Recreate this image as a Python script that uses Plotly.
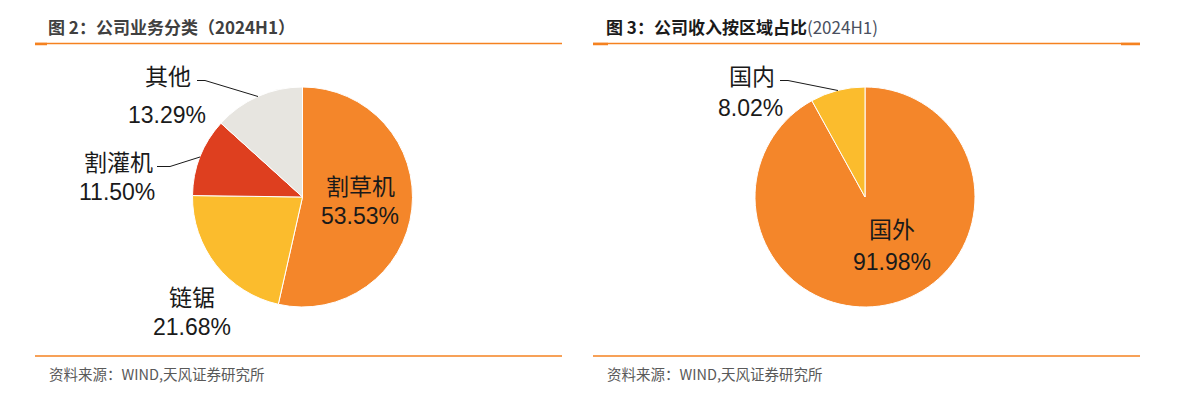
import plotly.graph_objects as go

W, H = 1180, 396

# ---- data ----
biz_labels = ["割草机", "链锯", "割灌机", "其他"]
biz_values = [53.53, 21.68, 11.50, 13.29]
biz_colors = ["#F4862A", "#FBBC2D", "#DE3F1F", "#E7E5E0"]

region_labels = ["国外", "国内"]
region_values = [91.98, 8.02]
region_colors = ["#F4862A", "#FBBC2D"]

title_left = "图 2：公司业务分类（2024H1）"
title_right_main = "图 3：公司收入按区域占比"
title_right_tail = "(2024H1)"
source_text = "资料来源：WIND,天风证券研究所"

FONT = "Liberation Sans, Arial, Noto Sans CJK SC, sans-serif"
CJK = "Noto Sans CJK SC, Liberation Sans, sans-serif"
ORANGE = "#F58220"


def px(x):
    return x / W


def py(y):
    return 1 - y / H


R = 110
c1 = (302.5, 197)
c2 = (865, 197)

fig = go.Figure()
fig.add_trace(go.Pie(
    labels=biz_labels, values=biz_values, sort=False, direction="clockwise",
    rotation=0, textinfo="none", hoverinfo="label+percent",
    marker=dict(colors=biz_colors, line=dict(color="white", width=1)),
    domain=dict(x=[px(c1[0] - R), px(c1[0] + R)], y=[py(c1[1] + R), py(c1[1] - R)]),
    showlegend=False,
))
fig.add_trace(go.Pie(
    labels=region_labels, values=region_values, sort=False, direction="clockwise",
    rotation=0, textinfo="none", hoverinfo="label+percent",
    marker=dict(colors=region_colors, line=dict(color="white", width=1)),
    domain=dict(x=[px(c2[0] - R), px(c2[0] + R)], y=[py(c2[1] + R), py(c2[1] - R)]),
    showlegend=False,
))

ann = []


def label(text, x, y, size=23):
    ann.append(dict(text=text, x=px(x), y=py(y), xref="paper", yref="paper",
                    showarrow=False, xanchor="center", yanchor="middle",
                    font=dict(family=FONT, size=size, color="#1a1a1a")))


def fmt(v):
    return f"{v:.2f}%"


# left pie labels (name, value)
label_pos_left = {
    "割草机": ((360, 187), (360, 216)),
    "链锯": ((192, 298), (192, 327)),
    "割灌机": ((118, 163), (117, 192)),
    "其他": ((168, 77), (167, 115)),
}
for lab, val in zip(biz_labels, biz_values):
    (nx, ny), (vx, vy) = label_pos_left[lab]
    label(lab, nx, ny)
    label(fmt(val), vx, vy)

label_pos_right = {
    "国外": ((892, 230), (892, 262)),
    "国内": ((752, 77), (750, 108)),
}
for lab, val in zip(region_labels, region_values):
    (nx, ny), (vx, vy) = label_pos_right[lab]
    label(lab, nx, ny)
    label(fmt(val), vx, vy)

# titles
ann.append(dict(text=f"<b>{title_left}</b>", x=px(46), y=py(27), xref="paper", yref="paper",
                showarrow=False, xanchor="left", yanchor="middle",
                font=dict(family=CJK, size=17, color="#404040")))
ann.append(dict(text=f"<b>{title_right_main}</b><span style='color:#4a5060'>{title_right_tail}</span>",
                x=px(604), y=py(27), xref="paper", yref="paper",
                showarrow=False, xanchor="left", yanchor="middle",
                font=dict(family=CJK, size=17, color="#1a1a1a")))
for x0 in (47, 605):
    ann.append(dict(text=source_text, x=px(x0), y=py(373), xref="paper", yref="paper",
                    showarrow=False, xanchor="left", yanchor="middle",
                    font=dict(family=CJK, size=14.5, color="#595959")))

shapes = []


def hline(x0, x1, y, w=1.5):
    shapes.append(dict(type="line", xref="paper", yref="paper",
                       x0=px(x0), x1=px(x1), y0=py(y), y1=py(y),
                       line=dict(color=ORANGE, width=w)))


for (a, b) in ((35, 562), (593, 1140)):
    hline(a, b, 43.5)
    hline(a, b, 356)
hline(35, 47, 44, 2.5)
hline(593, 608, 44, 2.5)
hline(1121, 1140, 44, 2.5)


def leader(pts):
    path = "M " + " L ".join(f"{px(x)},{py(y)}" for x, y in pts)
    shapes.append(dict(type="path", xref="paper", yref="paper", path=path,
                       line=dict(color="#1a1a1a", width=1)))


leader([(197, 80.5), (205, 80.5), (258, 96.5)])
leader([(157, 166.5), (170, 166.5), (200, 157)])
leader([(780, 80.5), (788, 80.5), (838, 90.5)])

fig.update_layout(
    width=W, height=H, margin=dict(l=0, r=0, t=0, b=0),
    paper_bgcolor="white", plot_bgcolor="white",
    annotations=ann, shapes=shapes,
)
fig.write_html("out.html", config={"displayModeBar": False},
               post_script="document.body.style.margin='0';document.body.style.padding='0';")
